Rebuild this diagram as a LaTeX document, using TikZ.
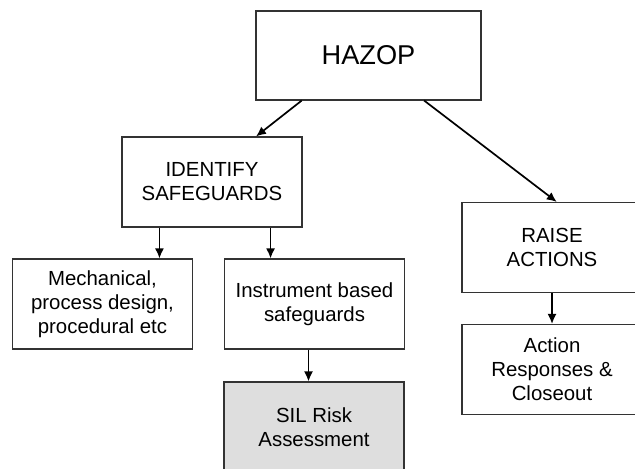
\documentclass[tikz,border=0pt]{standalone}
\usepackage{fontspec}
\setmainfont{Liberation Sans}
\usetikzlibrary{arrows.meta}
\begin{document}
\begin{tikzpicture}[x=0.5pt, y=-0.5pt, >={Latex[length=5pt,width=4.5pt]}, font=\fontsize{10.2}{12}\selectfont, line join=miter]
				\colorlet{box edge}{black!80}
				\colorlet{box area}{black!13}
				\tikzset{box/.style={draw=box edge, line width=0.55pt, rectangle, align=center, minimum width=90pt, minimum height=45pt, inner sep=0pt},
					shaded/.style={box, fill=box area},
					link/.style={->, line width=0.85pt}}
				\useasboundingbox (0,0) rectangle (635,468);
				\clip (0,0) rectangle (635,468);
				\node[box, minimum width=112.5pt, minimum height=44.5pt, font=\fontsize{13.6}{16}\selectfont] (hazop) at (368.5,55.5) {HAZOP};
				\node[box] (identify) at (212,182) {IDENTIFY\\SAFEGUARDS};
				\node[box] (mech) at (102.5,304) {Mechanical,\\process design,\\procedural etc};
				\node[box] (instr) at (314.5,304) {Instrument based\\safeguards};
				\node[shaded] (sil) at (314,427) {SIL Risk\\Assessment};
				\node[box] (raise) at (552,247.5) {RAISE\\ACTIONS};
				\node[box] (action) at (552,369.5) {Action\\Responses \&\\Closeout};
				% arrows
				\draw[link] (hazop.214) -- (identify.46);
				\draw[link] (hazop.-39) -- (raise.84);
				\draw[link] ([xshift=19pt]identify.south west) coordinate (l) -- (l |- mech.north);
				\draw[link] ([xshift=-16pt]identify.south east) coordinate (r) -- (r |- instr.north);
				\draw[link] ([xshift=-3pt]instr.south) coordinate (s) -- (s |- sil.north);
				\draw[link] (raise) -- (action);
		\end{tikzpicture}
\end{document}
